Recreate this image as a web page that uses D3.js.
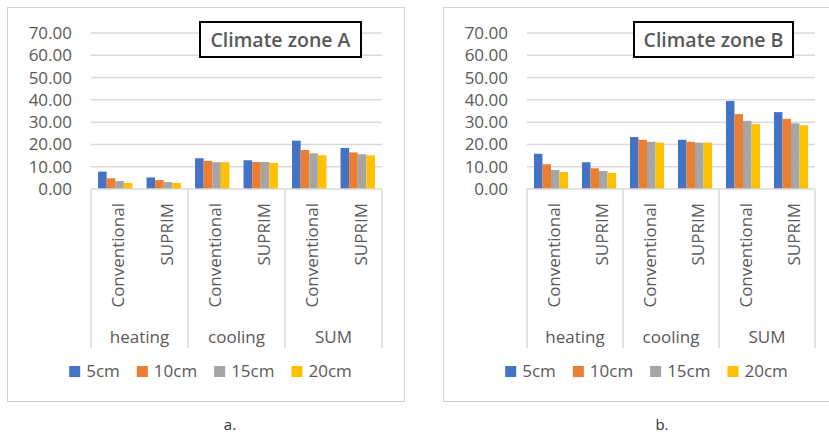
<!DOCTYPE html>
<html><head><meta charset="utf-8">
<script src="https://cdn.jsdelivr.net/npm/d3@7"></script>
<style>body{margin:0;background:#fff}svg{display:block}text{font-family:"Open Sans",sans-serif}</style>
</head><body><svg id="c" width="829" height="433"></svg>
<script>
const groups = ["heating", "cooling", "SUM"];
const types = ["Conventional", "SUPRIM"];
const series = ["5cm", "10cm", "15cm", "20cm"];
const colors = ["#4472C4", "#ED7D31", "#A5A5A5", "#FFC000"];
const yTicks = [0, 10, 20, 30, 40, 50, 60, 70];
// values per series, categories in order heating-Conv, heating-SUPRIM, cooling-Conv, cooling-SUPRIM, SUM-Conv, SUM-SUPRIM
const zoneA = {
  "5cm":  [7.8, 5.2, 13.8, 12.9, 21.7, 18.4],
  "10cm": [4.8, 4.0, 12.6, 12.1, 17.5, 16.4],
  "15cm": [3.6, 3.1, 12.0, 12.1, 16.0, 15.6],
  "20cm": [2.7, 2.7, 12.0, 11.7, 15.1, 15.1]
};
const zoneB = {
  "5cm":  [15.8, 12.0, 23.3, 22.1, 39.5, 34.5],
  "10cm": [11.1, 9.3, 22.1, 21.2, 33.6, 31.5],
  "15cm": [8.5, 8.1, 21.2, 20.8, 30.6, 29.5],
  "20cm": [7.6, 7.2, 20.8, 20.8, 29.1, 28.6]
};
const panels = [
  {title: "Climate zone A", caption: "a.", data: zoneA, box: [7.5, 7.5, 397, 394], plot: [91, 382], titleBox: [200, 22, 161, 35], capX: 230},
  {title: "Climate zone B", caption: "b.", data: zoneB, box: [443.5, 7.5, 400, 394], plot: [527, 815], titleBox: [634, 22, 159, 35], capX: 662}
];

const svg = d3.select("#c");
const txt = "#595959";
const grid = "#d9d9d9";
const fs = 17;
const y = d3.scaleLinear().domain([0, 70]).range([189, 33]);
const cats = [];
groups.forEach(g => types.forEach(t => cats.push(g + "|" + t)));

panels.forEach(p => {
  const g = svg.append("g");
  g.append("rect").attr("x", p.box[0]).attr("y", p.box[1]).attr("width", p.box[2]).attr("height", p.box[3])
    .attr("fill", "#fff").attr("stroke", "#d0d0d0").attr("stroke-width", 1);

  const x0 = d3.scaleBand().domain(cats).range(p.plot);
  const gx = d3.scaleBand().domain(groups).range(p.plot);
  const x1 = d3.scaleBand().domain(series).range([0, x0.bandwidth()]).paddingOuter(0.82).paddingInner(0);

  // gridlines
  g.append("g").selectAll("line").data(yTicks.slice(1)).join("line")
    .attr("x1", p.plot[0]).attr("x2", p.plot[1]).attr("y1", d => y(d)).attr("y2", d => y(d))
    .attr("stroke", grid).attr("stroke-width", 1.5);
  // y labels
  g.append("g").selectAll("text").data(yTicks).join("text")
    .attr("x", p.plot[0] - 19).attr("y", d => y(d)).attr("dy", "0.35em").attr("text-anchor", "end")
    .attr("fill", txt).attr("font-size", fs).text(d => d.toFixed(2));

  // bars
  series.forEach((s, si) => {
    g.append("g").selectAll("rect").data(p.data[s]).join("rect")
      .attr("x", (d, i) => x0(cats[i]) + x1(s)).attr("width", x1.bandwidth())
      .attr("y", d => y(d)).attr("height", d => y(0) - y(d)).attr("fill", colors[si]);
  });

  // axis line
  g.append("line").attr("x1", p.plot[0]).attr("x2", p.plot[1]).attr("y1", y(0)).attr("y2", y(0))
    .attr("stroke", grid).attr("stroke-width", 1.5);
  const bounds = groups.map(d => gx(d)).concat([p.plot[1]]);
  g.append("g").selectAll("line").data(bounds).join("line")
    .attr("x1", d => d).attr("x2", d => d).attr("y1", y(0)).attr("y2", 348)
    .attr("stroke", grid).attr("stroke-width", 1.5);

  // rotated sub labels
  g.append("g").selectAll("text").data(cats).join("text")
    .attr("transform", d => `translate(${x0(d) + x0.bandwidth() / 2 + 3},203) rotate(-90)`)
    .attr("text-anchor", "end").attr("dy", "0.35em").attr("fill", txt).attr("font-size", fs)
    .text(d => d.split("|")[1]);
  // group labels
  g.append("g").selectAll("text").data(groups).join("text")
    .attr("x", d => gx(d) + gx.bandwidth() / 2).attr("y", 343).attr("text-anchor", "middle")
    .attr("fill", txt).attr("font-size", fs).text(d => d);

  // legend
  const lg = g.append("g");
  const items = lg.selectAll("g").data(series).join("g");
  items.append("rect").attr("width", 11).attr("height", 11).attr("y", -5.5).attr("fill", (d, i) => colors[i]);
  items.append("text").attr("x", 17).attr("dy", "0.35em").attr("fill", txt).attr("font-size", fs).text(d => d);
  let xpos = 0;
  items.each(function () {
    const w = 17 + d3.select(this).select("text").node().getComputedTextLength();
    d3.select(this).attr("transform", `translate(${xpos},0)`);
    xpos += w + 17;
  });
  const total = xpos - 17;
  lg.attr("transform", `translate(${p.box[0] + 62 + (282 - total) / 2},371.5)`);

  // title box
  const tb = p.titleBox;
  g.append("rect").attr("x", tb[0]).attr("y", tb[1]).attr("width", tb[2]).attr("height", tb[3])
    .attr("fill", "#fff").attr("stroke", "#000").attr("stroke-width", 2);
  g.append("text").attr("x", tb[0] + tb[2] / 2).attr("y", tb[1] + tb[3] / 2).attr("dy", "0.36em")
    .attr("text-anchor", "middle").attr("fill", txt).attr("font-size", 19.5).attr("font-weight", 600).text(p.title);

  // caption
  svg.append("text").attr("x", p.capX).attr("y", 430).attr("text-anchor", "middle")
    .attr("fill", "#333").attr("font-size", 15).text(p.caption);
});
</script></body></html>
